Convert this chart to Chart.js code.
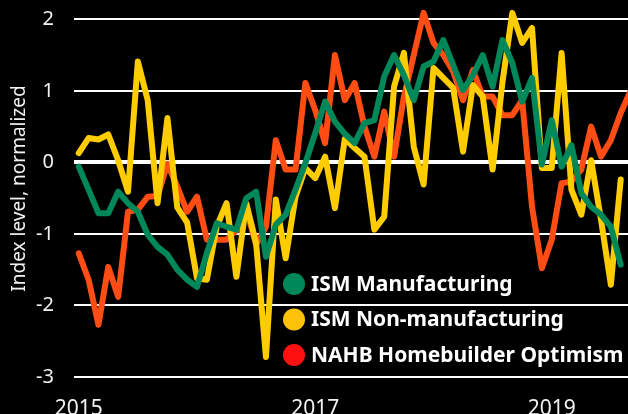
<!DOCTYPE html>
<html>
<head>
<meta charset="utf-8">
<script src="https://cdn.jsdelivr.net/npm/chart.js@4.4.1/dist/chart.umd.min.js"></script>
<style>
  html, body { margin: 0; padding: 0; background: #000; }
  #wrap { width: 628px; height: 414px; }
</style>
</head>
<body>
<div id="wrap"><canvas id="chart" width="628" height="414"></canvas></div>
<script>
  // monthly, Jan 2015 onward
  const seriesNames = ['ISM Manufacturing', 'ISM Non-manufacturing', 'NAHB Homebuilder Optimism'];
  const ismManufacturing = [
    -0.06, -0.38, -0.71, -0.71, -0.41, -0.57, -0.69, -1.01, -1.18, -1.29, -1.50, -1.64,
    -1.74, -1.27, -0.85, -0.90, -0.94, -0.50, -0.41, -1.32, -0.87, -0.73, -0.38, -0.01,
    0.41, 0.85, 0.57, 0.40, 0.27, 0.55, 0.59, 1.20, 1.50, 1.22, 0.87, 1.34,
    1.41, 1.71, 1.36, 1.01, 1.22, 1.50, 1.06, 1.71, 1.39, 0.85, 1.18, -0.03,
    0.59, -0.06, 0.24, -0.43, -0.62, -0.73, -0.90, -1.43
  ];
  const ismNonManufacturing = [
    0.13, 0.34, 0.32, 0.39, 0.03, -0.41, 1.41, 0.87, -0.57, 0.62, -0.63, -0.84,
    -1.62, -1.64, -0.90, -0.57, -1.60, -0.57, -1.13, -2.72, -0.52, -1.34, -0.48, -0.08,
    -0.22, 0.08, -0.64, 0.33, 0.20, 0.08, -0.94, -0.76, 1.06, 1.53, 0.22, -0.31,
    1.32, 1.18, 1.04, 0.15, 1.08, 0.92, -0.10, 1.12, 2.09, 1.67, 1.88, -0.08,
    -0.08, 1.53, -0.38, -0.73, 0.03, -0.80, -1.71, -0.24
  ];
  const nahbOptimism = [
    -1.27, -1.64, -2.27, -1.46, -1.88, -0.69, -0.66, -0.48, -0.47, -0.02, -0.34, -0.69,
    -0.48, -1.08, -1.08, -1.08, -0.95, -0.65, -1.15, -0.90, 0.31, -0.10, -0.10, 1.11,
    0.73, 0.27, 1.50, 0.87, 1.11, 0.50, 0.08, 0.71, 0.08, 0.92, 1.50, 2.09,
    1.67, 1.50, 1.27, 0.87, 1.29, 0.92, 0.92, 0.66, 0.66, 0.87, -0.62, -1.48,
    -1.08, -0.29, -0.27, -0.10, 0.50, 0.08, 0.31, 0.69, 1.00
  ];
  const xTickMonths = [0, 24, 48];
  const xTickLabels = ['2015', '2017', '2019'];
  const yTicks = [-3, -2, -1, 0, 1, 2];

  const lineColors = ['#00875a', '#ffcc00', '#ff4d14'];
  const dotColors = ['#00875a', '#ffc20a', '#ff1010'];

  const toPoints = (values) => values.map((v, i) => ({ x: i, y: v }));

  const legendDots = {
    id: 'legendDots',
    afterDatasetsDraw(chart) {
      const ctx = chart.ctx;
      ctx.save();
      ctx.font = 'bold 21px "Noto Sans"';
      ctx.textBaseline = 'middle';
      seriesNames.forEach((name, i) => {
        const y = 284 + i * 35.5;
        ctx.fillStyle = dotColors[i];
        ctx.beginPath();
        ctx.arc(294, y, 11, 0, Math.PI * 2);
        ctx.fill();
        ctx.fillStyle = '#ffffff';
        ctx.fillText(name, 311, y + 1);
      });
      ctx.restore();
    }
  };

  const datasets = [ismManufacturing, ismNonManufacturing, nahbOptimism].map((vals, i) => ({
    label: seriesNames[i],
    data: toPoints(vals),
    borderColor: lineColors[i],
    backgroundColor: lineColors[i],
    borderWidth: 6,
    pointRadius: 0,
    tension: 0,
    borderJoinStyle: 'round',
    borderCapStyle: 'round',
    fill: false
  }));

  new Chart(document.getElementById('chart'), {
    type: 'line',
    data: { datasets },
    options: {
      responsive: false,
      animation: false,
      devicePixelRatio: 1,
      layout: { padding: 0 },
      plugins: { legend: { display: false }, tooltip: { enabled: false } },
      scales: {
        x: {
          type: 'linear',
          min: -0.48,
          max: 55.74,
          grid: { display: false },
          border: { display: false },
          afterBuildTicks: (scale) => { scale.ticks = xTickMonths.map((v) => ({ value: v })); },
          afterFit: (scale) => {
            scale.height = 37;
            scale.paddingLeft = 0;
            scale.paddingRight = 0;
          },
          ticks: {
            color: '#f2f2f2',
            font: { family: '"Noto Sans"', size: 21 },
            padding: 11,
            maxRotation: 0,
            autoSkip: false,
            callback: (v) => xTickLabels[xTickMonths.indexOf(v)]
          }
        },
        y: {
          min: -3,
          max: 2.27,
          afterBuildTicks: (scale) => { scale.ticks = yTicks.map((v) => ({ value: v })); },
          afterFit: (scale) => {
            scale.width = 74;
            scale.paddingTop = 0;
            scale.paddingBottom = 0;
          },
          border: { display: false },
          grid: {
            color: '#ffffff',
            lineWidth: (ctx) => (ctx.tick && ctx.tick.value === 0 ? 4 : 2),
            drawTicks: false
          },
          ticks: {
            color: '#f2f2f2',
            font: { family: '"Noto Sans"', size: 20 },
            padding: 20
          },
          title: {
            display: true,
            text: 'Index level, normalized',
            color: '#f2f2f2',
            font: { family: '"Noto Sans"', size: 19 },
            padding: { top: 8, bottom: 0 }
          }
        }
      }
    },
    plugins: [legendDots]
  });
</script>
</body>
</html>
